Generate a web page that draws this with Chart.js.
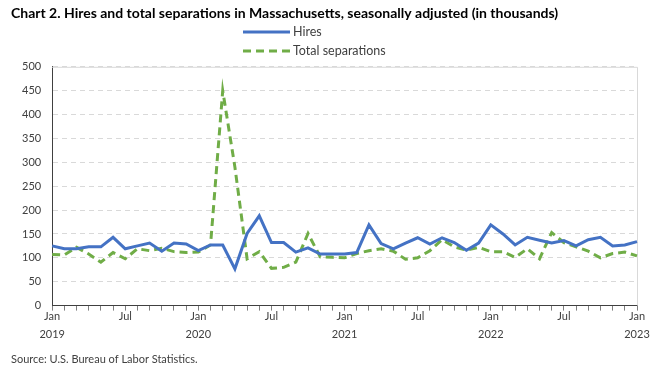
<!DOCTYPE html>
<html>
<head>
<meta charset="utf-8">
<script src="https://cdn.jsdelivr.net/npm/chart.js@4/dist/chart.umd.min.js"></script>
<style>
    html, body { margin: 0; padding: 0; background: #fff; }
    #chart { display: block; }
</style>
</head>
<body>
<canvas id="chart" width="660" height="370"></canvas>
<script>
const monthNames = ['Jan', 'Feb', 'Mar', 'Apr', 'May', 'Jun', 'Jul', 'Aug', 'Sep', 'Oct', 'Nov', 'Dec'];
const years = [2019, 2020, 2021, 2022, 2023];

// Jan 2019 .. Jan 2023
const categories = [];
years.forEach(y => monthNames.forEach(m => categories.push(m + ' ' + y)));
categories.length = 49;

const hires = [
    125, 119, 119, 123, 123, 143, 119, 125, 131, 114, 131, 129,
    115, 127, 127, 77, 151, 188, 132, 132, 112, 121, 108, 108,
    108, 111, 169, 130, 119, 131, 142, 129, 142, 132, 116, 131,
    169, 150, 127, 143, 137, 131, 136, 125, 138, 143, 125, 127,
    134
];

const separations = [
    107, 106, 122, 108, 91, 111, 98, 119, 115, 120, 113, 111,
    112, 127, 450, 290, 98, 113, 78, 80, 91, 151, 102, 101,
    100, 109, 115, 119, 114, 97, 100, 115, 138, 123, 116, 122,
    113, 113, 101, 119, 98, 153, 132, 123, 114, 100, 109, 112,
    104
];

const seriesNames = ['Hires', 'Total separations'];
const yTicks = [0, 50, 100, 150, 200, 250, 300, 350, 400, 450, 500];

const textColor = '#404040';
const fontFamily = 'Lato, "Open Sans", sans-serif';

// vertical, left-aligned legend like the original
const lineLegend = {
    id: 'lineLegend',
    afterDraw(chart) {
        const ctx = chart.ctx;
        ctx.save();
        chart.data.datasets.forEach((ds, i) => {
            const y = 32 + i * 19;
            ctx.strokeStyle = ds.borderColor;
            ctx.lineWidth = 3;
            ctx.setLineDash(ds.borderDash || []);
            ctx.beginPath();
            ctx.moveTo(243, y);
            ctx.lineTo(290, y);
            ctx.stroke();
            ctx.setLineDash([]);
            ctx.fillStyle = textColor;
            ctx.font = '12.5px ' + fontFamily;
            ctx.textBaseline = 'middle';
            ctx.fillText(ds.label, 293, y);
        });
        ctx.restore();
    }
};

const plotFrame = {
    id: 'plotFrame',
    beforeDatasetsDraw(chart) {
        const { ctx, chartArea: a } = chart;
        ctx.save();
        ctx.strokeStyle = '#d9d9d9';
        ctx.lineWidth = 1;
        ctx.beginPath();
        ctx.moveTo(a.left, a.top + 0.5);
        ctx.lineTo(a.right + 0.5, a.top + 0.5);
        ctx.lineTo(a.right + 0.5, a.bottom);
        ctx.stroke();
        ctx.restore();
    }
};

new Chart(document.getElementById('chart'), {
    type: 'line',
    data: {
        labels: categories,
        datasets: [
            {
                label: seriesNames[0],
                data: hires,
                borderColor: '#4472C4',
                borderWidth: 3,
                pointRadius: 0,
                tension: 0
            },
            {
                label: seriesNames[1],
                data: separations,
                borderColor: '#70AD47',
                borderWidth: 3,
                borderDash: [8, 5],
                pointRadius: 0,
                tension: 0
            }
        ]
    },
    options: {
        responsive: false,
        animation: false,
        layout: { padding: { left: 11, right: 23, top: 2, bottom: 4 } },
        plugins: {
            legend: { display: false },
            tooltip: { enabled: false },
            title: {
                display: true,
                text: 'Chart 2. Hires and total separations in Massachusetts, seasonally adjusted (in thousands)',
                align: 'start',
                color: '#000',
                font: { family: fontFamily, size: 14, weight: 'bold' },
                padding: { top: 3, bottom: 45 }
            },
            subtitle: {
                display: true,
                position: 'bottom',
                align: 'start',
                text: 'Source: U.S. Bureau of Labor Statistics.',
                color: textColor,
                font: { family: fontFamily, size: 11 },
                padding: { top: 13, bottom: 0 }
            }
        },
        scales: {
            x: {
                grid: {
                    display: true,
                    drawOnChartArea: false,
                    drawTicks: true,
                    tickLength: 5,
                    color: '#7f7f7f'
                },
                border: { color: '#404040', width: 1 },
                ticks: {
                    autoSkip: false,
                    maxRotation: 0,
                    color: textColor,
                    font: { family: fontFamily, size: 11, lineHeight: 1.6 },
                    padding: -3,
                    callback: (v, i) => {
                        const [m, y] = categories[i].split(' ');
                        if (m === 'Jan') return [m, y];
                        if (m === 'Jul') return m;
                        return '';
                    }
                }
            },
            y: {
                min: yTicks[0],
                max: yTicks[yTicks.length - 1],
                afterBuildTicks: axis => { axis.ticks = yTicks.map(v => ({ value: v })); },
                grid: {
                    color: '#d9d9d9',
                    drawTicks: false
                },
                border: { color: '#404040', width: 1, dash: [5, 4] },
                ticks: {
                    color: textColor,
                    font: { family: fontFamily, size: 11 },
                    padding: 11
                }
            }
        }
    },
    plugins: [plotFrame, lineLegend]
});
</script>
</body>
</html>
